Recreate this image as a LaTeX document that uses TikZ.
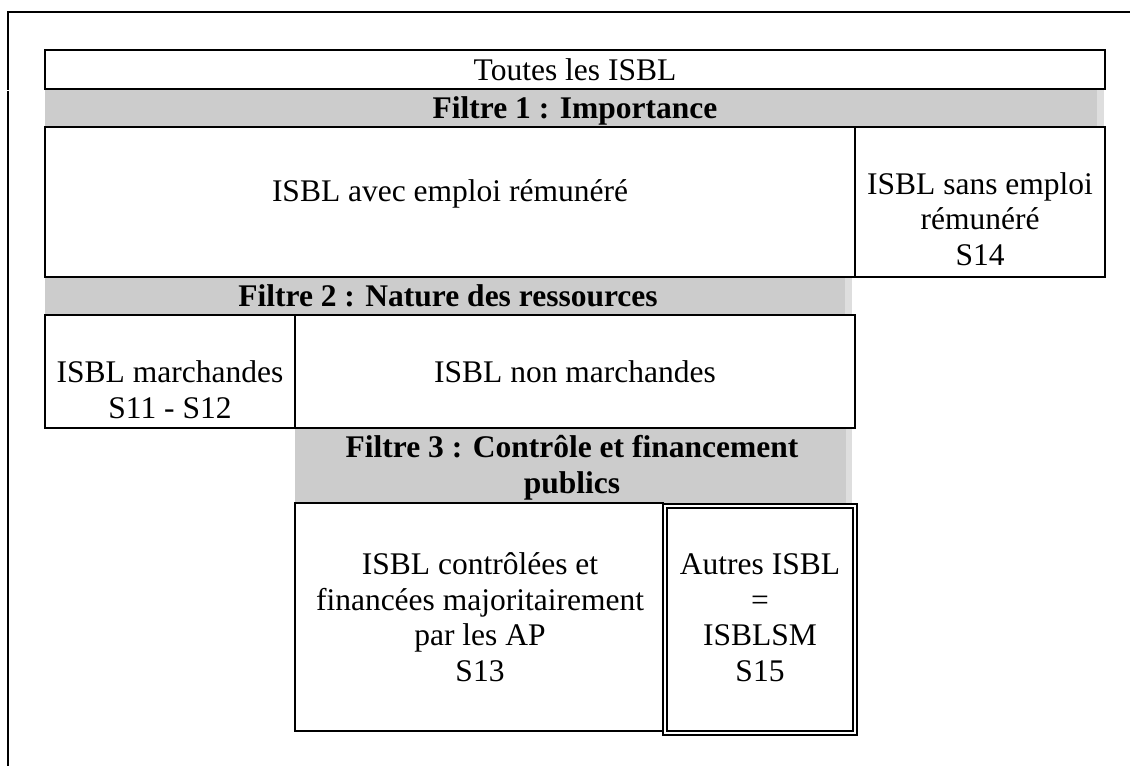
\documentclass[tikz,border=0pt]{standalone}
\usepackage{fontspec}
\setmainfont{Liberation Serif}
\usepackage{tikz}

\definecolor{filtergray}{gray}{0.8}
\definecolor{filteredge}{gray}{0.87}

\tikzset{
    cell/.style={draw, line width=2pt},
    filterbar/.style={fill=filtergray},
    filterstripe/.style={fill=filteredge},
    cellsep/.style={draw, line width=1.5pt},
    txt/.style={anchor=base, align=center, inner sep=0pt, font=\fontsize{31.5}{35.5}\selectfont},
    filtertxt/.style={txt, font=\fontsize{31.5}{35.5}\selectfont\bfseries}
}

\begin{document}
\begin{tikzpicture}[x=1pt, y=-1pt]
        \useasboundingbox (0,0) rectangle (1130,766);

        % frame
        \coordinate (frametl) at (8,12);
        \coordinate (frametr) at (1130,12);
        \coordinate (framegapa) at (8,89.5);
        \coordinate (framegapb) at (8,90.5);
        \coordinate (framebl) at (8,766);
        \draw[line width=2pt] (frametr) -- (frametl) -- (framegapa);
        \draw[line width=2pt] (framegapb) -- (framebl);

        % gray filter bars
        \fill[filterbar] (45,89) rectangle (1097,127);
        \fill[filterstripe] (1097,89) rectangle (1104,127);
        \fill[filterbar] (45,277) rectangle (845,315);
        \fill[filterstripe] (845,277) rectangle (852,315);
        \fill[filterbar] (295,428) rectangle (846,503);
        \fill[filterstripe] (846,428) rectangle (852,503);

        % cells
        \draw[cell] (45,50) rectangle (1105,89);
        \draw[cell] (45,127) rectangle (855,277);
        \draw[cell] (855,127) rectangle (1105,277);
        \draw[cell] (45,315) rectangle (295,428);
        \draw[cell] (295,315) rectangle (855,428);
        \draw[cell] (295,503) rectangle (663,731);
        \draw[cellsep] (663,504) rectangle (857,735);
        \draw[cellsep] (667,508) rectangle (853,731);

        % texts (multi-line nodes sit on their last line)
        \node[txt] (toutes) at (575,80) {Toutes les ISBL};
        \node[filtertxt] (filtre1) at (575,118) {Filtre 1 : Importance};
        \node[txt] (avec) at (450,201) {ISBL avec emploi rémunéré};
        \node[txt] (sans) at (980,265) {ISBL sans emploi\\rémunéré\\S14};
        \node[filtertxt] (filtre2) at (448,306) {Filtre 2 : Nature des ressources};
        \node[txt] (march) at (170,418) {ISBL marchandes\\S11 - S12};
        \node[txt] (nonmarch) at (575,382) {ISBL non marchandes};
        \node[filtertxt] (filtre3) at (572,493) {Filtre 3 : Contrôle et financement\\publics};
        \node[txt] (ctrl) at (480,681) {ISBL contrôlées et\\financées majoritairement\\par les AP\\S13};
        \node[txt] (autres) at (760,681) {Autres ISBL\\=\\ISBLSM\\S15};
    \end{tikzpicture}
\end{document}
